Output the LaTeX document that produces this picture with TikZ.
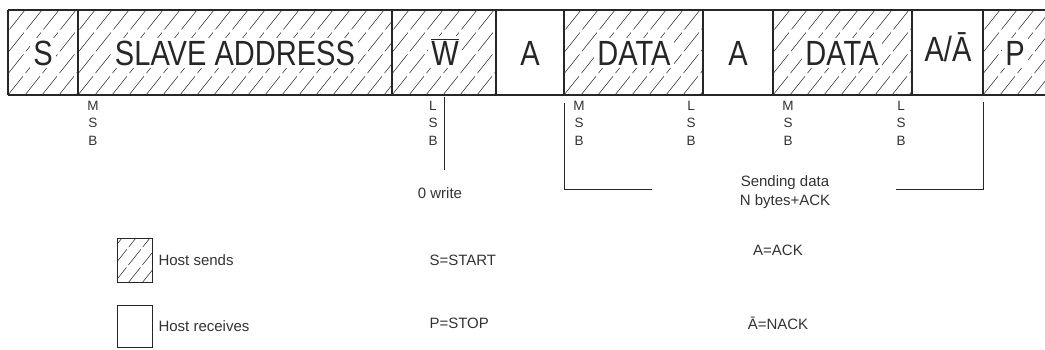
\documentclass[tikz,border=0pt]{standalone}
\usepackage{fontspec}
\setmainfont{Liberation Sans}
\newfontfamily\boxfont[FakeStretch=0.83]{Liberation Sans}
\usepackage{tikz}
\usetikzlibrary{positioning}

\begin{document}
\begin{tikzpicture}[
        x=1pt, y=-1pt,
        frame/.style={line width=1.7pt, black!85},
        hatchline/.style={line width=0.6pt, black!75, dash pattern=on 24pt off 4pt},
        fieldtext/.style={font=\boxfont\fontsize{35pt}{38pt}\selectfont, text=black!85,
                          fill=white, inner sep=3pt},
        bitmark/.style={font=\fontsize{13.5pt}{17.5pt}\selectfont, text=black!80,
                        align=center, inner sep=0pt, anchor=north},
        note/.style={font=\fontsize{15pt}{19pt}\selectfont, text=black!80, align=center},
        bracket/.style={line width=1pt, black!85},
        keybox/.style={draw, line width=1pt, black!85, minimum width=35pt, minimum height=44pt,
                       inner sep=0pt},
    ]
    \useasboundingbox (0,0) rectangle (1045,349);

    % hatched fields (host sends)
    \foreach \xa/\xb in {8/78, 78/392, 392/496, 564/703, 773/912, 983/1045}
    {
        \begin{scope}
            \clip (\xa,10) rectangle (\xb,95);
            \foreach \h in {-85,-68,...,330}
                \draw[hatchline] (\xa+\h,95) -- ++(68,-85);
        \end{scope}
    }

    % field labels
    \node[fieldtext] (start) at (43,53) {S};
    \node[fieldtext] (addr) at (235,53) {SLAVE ADDRESS};
    \node[fieldtext] (rw) at (445,52) {$\overline{\mbox{W}}$};
    \node[fieldtext] (ack1) at (530,53) {A};
    \node[fieldtext] (data1) at (634,53) {DATA};
    \node[fieldtext] (ack2) at (738,53) {A};
    \node[fieldtext] (data2) at (842,53) {DATA};
    \node[fieldtext] (nack) at (948,47) {A/Ā};
    \node[fieldtext] (stop) at (1015,53) {P};

    % frame
    \draw[frame] (8,10) -- (1045,10) (8,95) -- (1045,95);
    \foreach \x in {8, 78, 392, 496, 564, 703, 773, 912, 983}
        \draw[frame] (\x,10) -- (\x,95);

    % bit order marks
    \node[bitmark] (msb1) at (93,101) {M\\S\\B};
    \node[bitmark] (lsb1) at (433,101) {L\\S\\B};
    \node[bitmark] (msb2) at (579,101) {M\\S\\B};
    \node[bitmark] (lsb2) at (691,101) {L\\S\\B};
    \node[bitmark] (msb3) at (788,101) {M\\S\\B};
    \node[bitmark] (lsb3) at (901,101) {L\\S\\B};

    % write bit
    \coordinate (wtop) at (444,97);
    \coordinate (wbot) at (444,170);
    \draw[bracket] (wtop) -- (wbot);
    \node[note] (write) at (440,193) {0 write};

    % data bytes bracket
    \coordinate (ltop) at (564,103);
    \coordinate (lbot) at (564,189);
    \coordinate (lend) at (652,189);
    \coordinate (rtop) at (983,102);
    \coordinate (rbot) at (983,189);
    \coordinate (rend) at (896,189);
    \draw[bracket] (ltop) -- (lbot) -- (lend);
    \draw[bracket] (rend) -- (rbot) -- (rtop);
    \node[note] (sending) at (785,192) {Sending data\\N bytes+ACK};

    % legend
    \begin{scope}
        \clip (117,238) rectangle (152,283);
        \foreach \h in {-45,-31,...,40}
            \draw[hatchline, dash pattern=on 20pt off 3pt] (117+\h,283) -- ++(36,-45);
    \end{scope}
    \node[keybox, anchor=north west] (sendkey) at (117,238) {};
    \node[keybox, anchor=north west, minimum height=42pt] (recvkey) at (117,305) {};
    \node[note, right=2pt of sendkey] (sendtxt) {Host sends};
    \node[note, right=2pt of recvkey] (recvtxt) {Host receives};

    \node[note, anchor=west] (skey) at (426,260) {S=START};
    \node[note, anchor=west] (pkey) at (426,323) {P=STOP};
    \node[note] (akey) at (778,250) {A=ACK};
    \node[note] (nkey) at (778,323) {Ā=NACK};

\end{tikzpicture}
\end{document}
